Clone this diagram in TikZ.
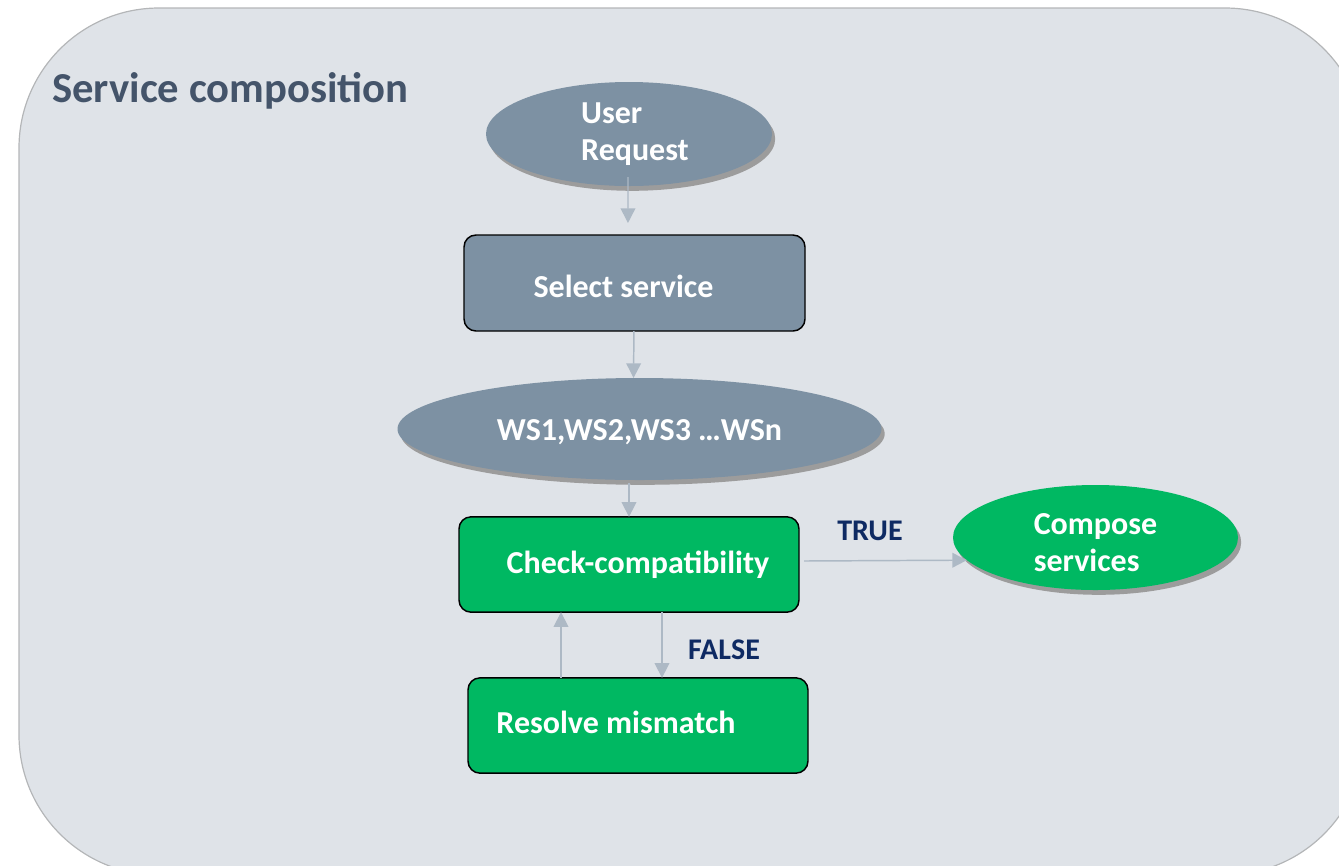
\documentclass[tikz,border=0pt]{standalone}
\usepackage{fontspec}
\setmainfont{Carlito}
\usetikzlibrary{shapes.geometric,shadows,arrows.meta}

\definecolor{panelfill}{HTML}{DFE3E8}
\definecolor{panelline}{HTML}{B4B6B8}
\definecolor{slate}{HTML}{7D91A3}
\definecolor{okgreen}{HTML}{00B862}
\definecolor{linkline}{HTML}{ADB9C5}
\definecolor{titlegray}{HTML}{44546A}
\definecolor{navy}{HTML}{0E2A63}
\definecolor{shade}{HTML}{9C9C9C}

\tikzset{
  nodefont/.style={font=\fontsize{24}{27.5}\selectfont\bfseries},
  oval/.style={ellipse, nodefont, text=white, inner sep=0pt, outer sep=0pt,
    align=left, draw=none,
    drop shadow={shadow xshift=2.4pt, shadow yshift=-3.6pt, fill=shade, opacity=1}},
  procbox/.style={rectangle, rounded corners=9pt, nodefont, text=white,
    draw=black, line width=1.1pt, inner sep=0pt, outer sep=0pt,
    minimum width=255pt, minimum height=71.5pt},
  flow/.style={draw=linkline, line width=1.1pt,
    -{Triangle[width=11pt,length=11pt]}},
  branch/.style={font=\fontsize{22.5}{26}\selectfont\bfseries, text=navy,
    inner sep=0pt},
}

\begin{document}
\begin{tikzpicture}[x=0.75pt,y=-0.75pt]
  \useasboundingbox (0,0) rectangle (1339,865);

  % rounded panel holding the whole flow
  \draw[fill=panelfill, draw=panelline, line width=0.9pt, rounded corners=105pt]
    (19,8) rectangle (1365,875);
  \node[anchor=base west, font=\fontsize{32}{36}\selectfont\bfseries,
    text=titlegray, inner sep=0pt] (title) at (52,102) {Service composition};

  % flow steps
  \node[oval, fill=slate, minimum width=214.5pt, minimum height=78pt]
    (user) at (629,134) {\hspace*{9pt}User\\\hspace*{9pt}Request};
  \node[procbox, fill=slate, minimum width=255.75pt, minimum height=72pt,
    text height=22.5pt]
    (select) at (634.5,283) {Select service\hspace*{16.5pt}};
  \node[oval, fill=slate, minimum width=363pt, minimum height=76.5pt,
    text height=20.4pt]
    (ws) at (639.5,429) {WS1,WS2,WS3 …WSn};
  \node[procbox, fill=okgreen] (check) at (629,564.5)
    {\hspace*{13.5pt}Check-compatibility};
  \node[oval, fill=okgreen, minimum width=213.75pt, minimum height=78.75pt]
    (compose) at (1095.5,537.5) {\rule{0pt}{23pt}Compose\\services};
  \node[procbox, fill=okgreen, text depth=4.5pt] (resolve) at (638,725.5)
    {Resolve mismatch\hspace*{33pt}};

  % branch labels
  \node[branch] (truelbl) at (870,531) {TRUE};
  \node[branch] (falselbl) at (724,650) {FALSE};

  % connectors
  \draw[flow, shorten >=9pt] ([shift={(-1,-9)}]user.south) -- ([xshift=-4.9pt]select.north);
  \draw[flow] ([xshift=-0.4pt]select.south) -- ([xshift=-4.5pt]ws.north);
  \draw[flow] ([shift={(-10.5,3)}]ws.south) -- (check.north);
  \draw[flow] ([shift={(5,-3.5)}]check.east) -- (compose.190);
  \draw[flow] ([xshift=24.75pt]check.south) -- ([xshift=18pt]resolve.north);
  \draw[flow] ([xshift=-57.75pt]resolve.north) -- ([xshift=-51pt]check.south);
\end{tikzpicture}
\end{document}
